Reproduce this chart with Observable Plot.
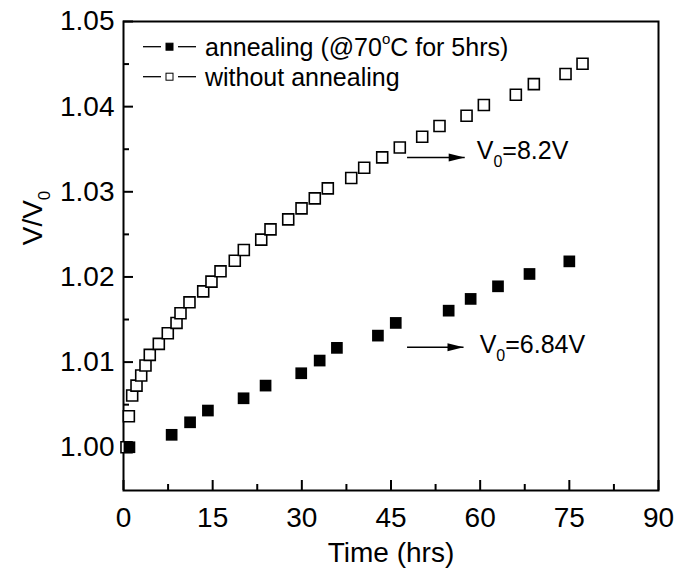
<!DOCTYPE html>
<html><head><meta charset="utf-8">
<script src="https://cdn.jsdelivr.net/npm/d3@7"></script>
<script src="https://cdn.jsdelivr.net/npm/@observablehq/plot@0.6"></script>
<style>html,body{margin:0;padding:0;background:#fff;} #chart{width:690px;height:578px;}</style>
</head><body><div id="chart"></div>
<script>
// ---- data ----
const timeAnnealed = [1.0, 8.1, 11.2, 14.2, 20.2, 23.9, 29.9, 33.0, 35.9, 42.8, 45.8, 54.7, 58.4, 63.0, 68.3, 75.0];
const ratioAnnealed = [1.0000, 1.00146, 1.00293, 1.00431, 1.00575, 1.00724, 1.00869, 1.01018, 1.01167, 1.01311, 1.0146, 1.01604, 1.01742, 1.0189, 1.02035, 1.02183];
const timeNoAnneal = [0.5, 0.9, 1.46, 2.19, 2.98, 3.70, 4.42, 5.94, 7.45, 8.92, 9.59, 11.10, 13.41, 14.80, 16.32, 18.72, 20.24, 23.17, 24.73, 27.71, 29.95, 32.18, 34.37, 38.31, 40.49, 43.52, 46.48, 50.25, 53.16, 57.71, 60.62, 66.0, 69.03, 74.36, 77.22];
const ratioNoAnneal = [1.0000, 1.00364, 1.00607, 1.00724, 1.00842, 1.0096, 1.01085, 1.01214, 1.01338, 1.0146, 1.01573, 1.01702, 1.01831, 1.01945, 1.02066, 1.0219, 1.02317, 1.02438, 1.02559, 1.02676, 1.02805, 1.02923, 1.0304, 1.03162, 1.03283, 1.03404, 1.03521, 1.03647, 1.03772, 1.03893, 1.04019, 1.04139, 1.04265, 1.04383, 1.04504];
const seriesNames = ["annealing (@70", "without annealing"];
const xTicks = [0, 15, 30, 45, 60, 75, 90];
const xMinorTicks = [7.5, 22.5, 37.5, 52.5, 67.5, 82.5];
const yTicks = [1.00, 1.01, 1.02, 1.03, 1.04, 1.05];
const yMinorTicks = [1.005, 1.015, 1.025, 1.035, 1.045];
const xDomain = [0, 90];
const yDomain = [0.99492, 1.05];
// annotations: arrows and V0 labels
const arrowX1 = [47.7, 47.7];
const arrowX2 = [57.4, 57.2];
const arrowY = [1.03404, 1.01174];
const labelX = [59.5, 60.0];
const labelY = [1.03377, 1.01096];
const labelV0 = ["=8.2V", "=6.84V"];

const annealed = timeAnnealed.map((t, i) => ({t, r: ratioAnnealed[i]}));
const noAnneal = timeNoAnneal.map((t, i) => ({t, r: ratioNoAnneal[i]}));
const arrows = arrowY.map((y, i) => ({x1: arrowX1[i], x2: arrowX2[i], y}));

const W = 690, H = 578, mL = 123, mR = 32, mT = 21, mB = 88;
const frameW = W - mL - mR, frameH = H - mT - mB;
const arrowHead = {draw(ctx) { ctx.moveTo(0, 0); ctx.lineTo(-16, -4); ctx.lineTo(-16, 4); ctx.closePath(); }};

const font = "'Liberation Sans', Arial, Helvetica, sans-serif";
const plot = Plot.plot({
  width: W, height: H,
  marginLeft: mL, marginRight: mR, marginTop: mT, marginBottom: mB,
  style: {fontFamily: font, background: "white", color: "black", overflow: "visible"},
  x: {domain: xDomain},
  y: {domain: yDomain},
  marks: [
    // inward tick marks
    Plot.tickX(xTicks, {x: d => d, insetTop: frameH - 10, stroke: "black", strokeWidth: 2}),
    Plot.tickX(xMinorTicks, {x: d => d, insetTop: frameH - 6, stroke: "black", strokeWidth: 2}),
    Plot.tickY(yTicks, {y: d => d, insetRight: frameW - 10, stroke: "black", strokeWidth: 2}),
    Plot.tickY(yMinorTicks, {y: d => d, insetRight: frameW - 6, stroke: "black", strokeWidth: 2}),
    // tick labels
    Plot.axisX(xTicks, {tickSize: 0, tickPadding: 17, fontSize: 28, tickFormat: d => String(d), label: null}),
    Plot.axisY(yTicks, {tickSize: 0, tickPadding: 9, fontSize: 28, tickFormat: d3.format(".2f"), label: null}),
    Plot.frame({stroke: "black", strokeWidth: 2}),
    Plot.link(arrows, {x1: "x1", x2: "x2", y1: "y", y2: "y", stroke: "black", strokeWidth: 1.5}),
    Plot.dot(arrows, {x: "x2", y: "y", symbol: arrowHead, fill: "black", stroke: "none"}),
    Plot.dot(noAnneal, {x: "t", y: "r", symbol: "square", r: 6.2, fill: "white", stroke: "black", strokeWidth: 1.6}),
    Plot.dot(annealed, {x: "t", y: "r", symbol: "square", r: 6.6, fill: "black", stroke: "none"}),
    Plot.text(["Time (hrs)"], {frameAnchor: "bottom", dy: 71, fontSize: 28, fill: "black"})
  ]
});
document.getElementById("chart").appendChild(plot);

// rich text (subscripts / superscripts) placed through Plot's scales
const svg = d3.select(plot);
const sx = plot.scale("x"), sy = plot.scale("y");
labelX.forEach((lx, i) => {
  const t = svg.append("text").attr("x", sx.apply(lx)).attr("y", sy.apply(labelY[i]))
    .attr("text-anchor", "start").attr("font-family", font).attr("font-size", 25).attr("fill", "black");
  t.append("tspan").text("V");
  t.append("tspan").attr("font-size", 16).attr("dy", 8).text("0");
  t.append("tspan").attr("dy", -8).text(labelV0[i]);
});
// y axis title V/V0
const yt = svg.append("text").attr("transform", "translate(42,218) rotate(-90)")
  .attr("text-anchor", "middle").attr("font-family", font).attr("font-size", 28).attr("fill", "black");
yt.append("tspan").text("V/V");
yt.append("tspan").attr("font-size", 17).attr("dy", 8).text("0");

// legend
const lg = svg.append("g").attr("font-family", font).attr("font-size", 25).attr("text-anchor", "start");
[46.7, 76.7].forEach((cy, i) => {
  lg.append("line").attr("x1", 143).attr("x2", 161).attr("y1", cy).attr("y2", cy).attr("stroke", "black").attr("stroke-width", 1.3);
  lg.append("line").attr("x1", 178).attr("x2", 196).attr("y1", cy).attr("y2", cy).attr("stroke", "black").attr("stroke-width", 1.3);
  lg.append("rect").attr("x", 166).attr("y", cy - 3.5).attr("width", 7).attr("height", 7)
    .attr("fill", i === 0 ? "black" : "white").attr("stroke", "black").attr("stroke-width", 1);
  const t = lg.append("text").attr("x", 205).attr("y", cy + 9).attr("fill", "black");
  t.append("tspan").text(seriesNames[i]);
  if (i === 0) {
    t.append("tspan").attr("font-size", 15).attr("dy", -12).text("o");
    t.append("tspan").attr("dy", 12).text("C for 5hrs)");
  }
});
</script>
</body></html>
